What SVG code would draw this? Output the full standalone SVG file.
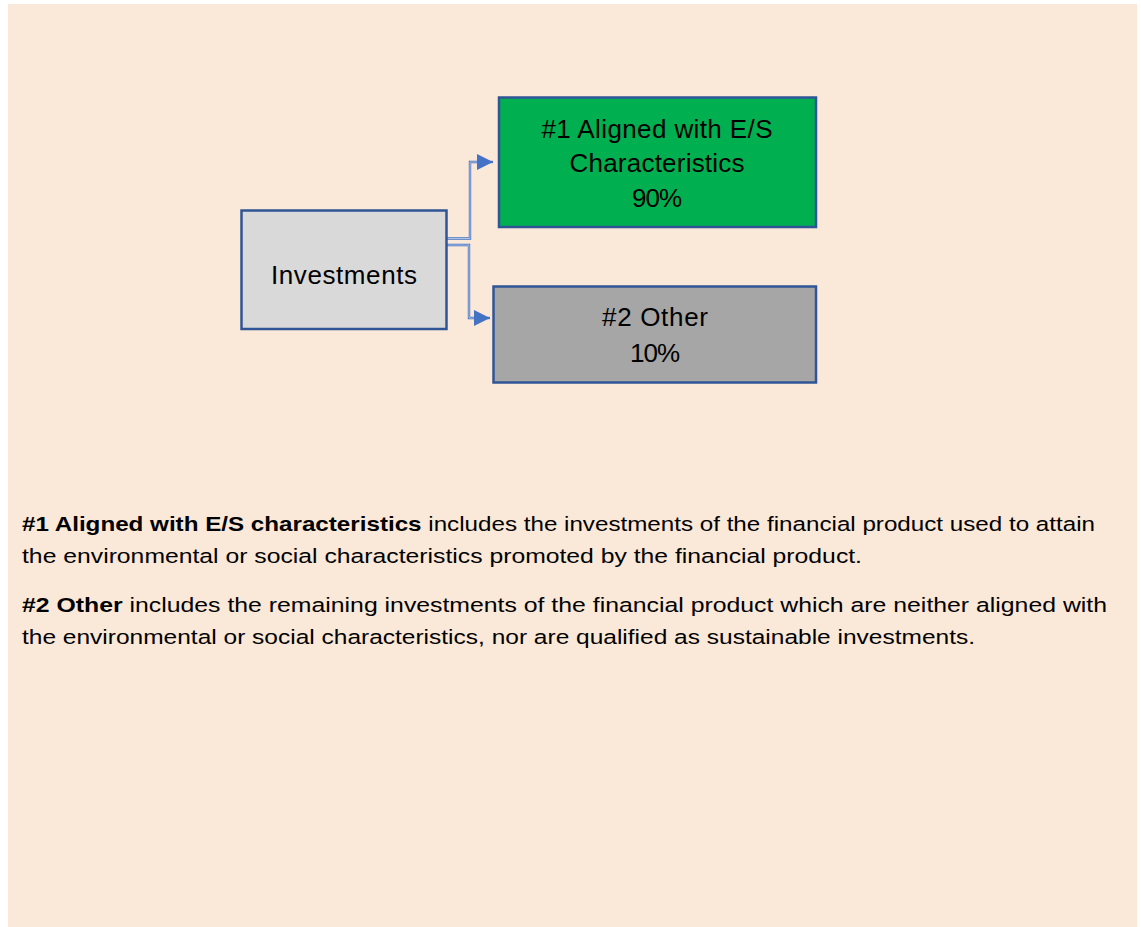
<svg xmlns="http://www.w3.org/2000/svg" width="1141" height="927" viewBox="0 0 1141 927">
<defs>
<style>
.t{font-family:"Liberation Sans",Arial,sans-serif;fill:#000}
.bx{font-size:26px;text-anchor:middle}
.body{font-size:20.5px}
.b{font-weight:bold}
.box{stroke:#2F5597;stroke-width:2.5}
.con{fill:none;stroke:#4472C4;stroke-width:2.4}
.coni{fill:none;stroke:#DCE4F2;stroke-width:0.7}
</style>
<marker id="arr" viewBox="0 0 10 10" refX="10" refY="5" markerWidth="16" markerHeight="16" markerUnits="userSpaceOnUse" orient="auto">
<path d="M0,0 L10,5 L0,10 z" fill="#4472C4"/>
</marker>
</defs>
<rect x="0" y="0" width="1141" height="927" fill="#ffffff"/>
<rect x="8" y="4" width="1129" height="923" fill="#FAE8D8"/>
<g id="connectors">
<path class="con" d="M447,238.5 H470 V162 H484"/>
<path class="coni" d="M447,238.5 H470 V162 H480"/>
<path class="con" d="M480,162 H493" marker-end="url(#arr)"/>
<path class="con" d="M447,245 H469 V318 H481"/>
<path class="coni" d="M447,245 H469 V318 H477"/>
<path class="con" d="M477,318 H490" marker-end="url(#arr)"/>
</g>
<g id="investments">
<rect class="box" x="241.5" y="210.5" width="205" height="118.5" fill="#D9D9D9"/>
<text class="t bx" x="344" y="284" textLength="146">Investments</text>
</g>
<g id="aligned">
<rect class="box" x="499" y="97.5" width="317" height="129.5" fill="#00B050"/>
<text class="t bx" x="657" y="138" textLength="231">#1 Aligned with E/S</text>
<text class="t bx" x="657" y="172" textLength="175">Characteristics</text>
<text class="t bx" x="657" y="207" textLength="50">90%</text>
</g>
<g id="other">
<rect class="box" x="493.5" y="286.5" width="322.5" height="96" fill="#A6A6A6"/>
<text class="t bx" x="655" y="326" textLength="106">#2 Other</text>
<text class="t bx" x="655" y="362" textLength="50">10%</text>
</g>
<g id="legend">
<text class="t body" x="22" y="531" textLength="1073" lengthAdjust="spacingAndGlyphs"><tspan class="b">#1 Aligned with E/S characteristics</tspan> includes the investments of the financial product used to attain</text>
<text class="t body" x="22" y="563" textLength="840" lengthAdjust="spacingAndGlyphs">the environmental or social characteristics promoted by the financial product.</text>
<text class="t body" x="22" y="612" textLength="1085" lengthAdjust="spacingAndGlyphs"><tspan class="b">#2 Other</tspan> includes the remaining investments of the financial product which are neither aligned with</text>
<text class="t body" x="22" y="644" textLength="953" lengthAdjust="spacingAndGlyphs">the environmental or social characteristics, nor are qualified as sustainable investments.</text>
</g>
</svg>
